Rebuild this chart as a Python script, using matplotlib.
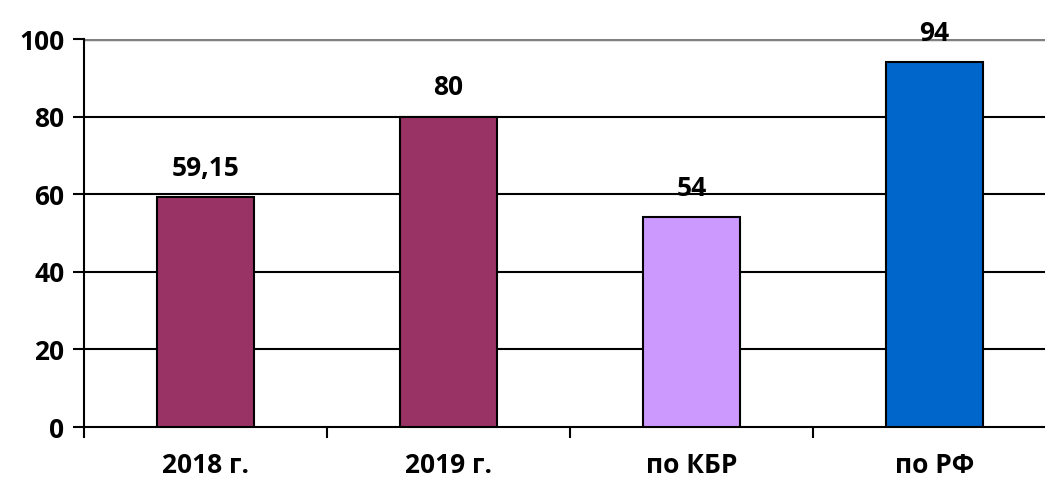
import matplotlib.pyplot as plt
import numpy as np

# dane
categories = ['2018 г.', '2019 г.', 'по КБР', 'по РФ']
values = [59.15, 80, 54, 94]
labels = ['59,15', '80', '54', '94']
colors = ['#993366', '#993366', '#CC99FF', '#0066CC']

plt.rcParams['font.family'] = ['Open Sans', 'DejaVu Sans']
plt.rcParams['font.weight'] = 'bold'

fig = plt.figure(figsize=(10.45, 4.88), dpi=100)
# obszar wykresu wychodzi lekko poza prawa krawedz
ax = fig.add_axes([84 / 1045, 1 - 427 / 488, 972 / 1045, 388 / 488])

x = np.arange(len(categories))
ax.bar(x, values, width=0.4, color=colors, edgecolor='black', linewidth=1.5, zorder=3)

for xi, v, t in zip(x, values, labels):
    ax.annotate(t, (xi, v), xytext=(0, 11), textcoords='offset points',
                ha='center', va='bottom', fontsize=19, fontweight='bold')

ax.set_xlim(-0.5, len(categories) - 0.5)
ax.set_ylim(0, 100)
ax.set_yticks(range(0, 101, 20))
for yv in range(20, 100, 20):
    ax.axhline(yv, color='black', linewidth=1.5, zorder=1)
ax.axhline(100, color='#808080', linewidth=2.5, zorder=1)

# podzialki na granicach kategorii, podpisy w srodku
ax.set_xticks(np.arange(-0.5, len(categories), 1.0))
ax.set_xticklabels([])
ax.set_xticks(x, minor=True)
ax.set_xticklabels(categories, minor=True)
ax.tick_params(axis='x', which='minor', length=0, pad=18, labelsize=19)
ax.tick_params(axis='x', which='major', length=8, width=1.5, direction='out')
ax.tick_params(axis='y', length=8, width=1.5, labelsize=19, pad=6)

for s in ['top', 'right']:
    ax.spines[s].set_visible(False)
ax.spines['left'].set_linewidth(1.5)
ax.spines['bottom'].set_linewidth(1.5)
for lab in ax.get_xticklabels(minor=True) + ax.get_yticklabels():
    lab.set_fontweight('bold')

plt.savefig('out.png', dpi=100)
